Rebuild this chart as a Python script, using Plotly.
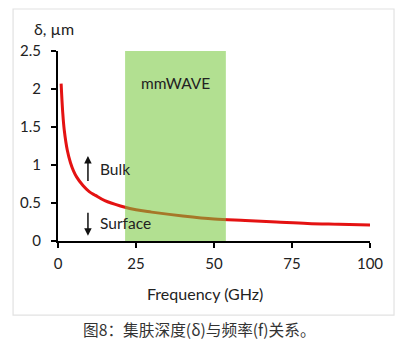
import plotly.graph_objects as go

freq_ghz = [1, 1.5, 2, 3, 4, 5, 6, 8, 10, 12, 15, 20, 25, 30, 40, 50, 60, 70, 80, 90, 100]
skin_depth_um = [2.07, 1.70, 1.46, 1.19, 1.03, 0.92, 0.84, 0.73, 0.65, 0.60, 0.53, 0.46, 0.41, 0.38, 0.33, 0.29, 0.27, 0.25, 0.23, 0.22, 0.21]
x_ticks = [0, 25, 50, 75, 100]
y_ticks = [0, 0.5, 1, 1.5, 2, 2.5]
band_start, band_end = 21.5, 53.8

FONT = "Lato, Open Sans, sans-serif"

fig = go.Figure()
fig.add_trace(go.Scatter(x=freq_ghz, y=skin_depth_um, mode="lines",
                         line=dict(color="rgb(228,18,18)", width=3, shape="spline"),
                         hoverinfo="skip", showlegend=False))

fig.add_shape(type="rect", xref="x", yref="y", x0=band_start, x1=band_end, y0=0, y1=2.5,
              fillcolor="rgba(118,200,58,0.56)", line=dict(width=0), layer="above")
# outer frame
fig.add_shape(type="rect", xref="paper", yref="paper", x0=-0.144, x1=1.077, y0=-0.39, y1=1.221,
              line=dict(color="#e2e2e2", width=1.2), fillcolor="rgba(0,0,0,0)", layer="below")

ann = []
ann.append(dict(x=37.8, y=2.08, xref="x", yref="y", text="mmWAVE", showarrow=False,
                font=dict(family=FONT, size=15.5, color="#222")))
ann.append(dict(x=12.8, y=0.95, xref="x", yref="y", text="Bulk", showarrow=False, xanchor="left",
                font=dict(family=FONT, size=15.5, color="#222")))
ann.append(dict(x=12.8, y=0.24, xref="x", yref="y", text="Surface", showarrow=False, xanchor="left",
                font=dict(family=FONT, size=15.5, color="#222")))
ann.append(dict(x=9.6, y=1.12, ax=9.6, ay=0.77, xref="x", yref="y", axref="x", ayref="y",
                text="", showarrow=True, arrowhead=2, arrowsize=1, arrowwidth=1.5, arrowcolor="#111"))
ann.append(dict(x=9.6, y=0.07, ax=9.6, ay=0.39, xref="x", yref="y", axref="x", ayref="y",
                text="", showarrow=True, arrowhead=2, arrowsize=1, arrowwidth=1.5, arrowcolor="#111"))
ann.append(dict(x=-0.083, y=1.12, xref="paper", yref="paper", text="δ, µm", showarrow=False,
                xanchor="left", yanchor="middle", font=dict(family=FONT, size=16, color="#222")))
ann.append(dict(x=0.47, y=-0.274, xref="paper", yref="paper", text="Frequency (GHz)", showarrow=False,
                xanchor="center", yanchor="middle", font=dict(family=FONT, size=16, color="#222")))
ann.append(dict(x=0.452, y=-0.468, xref="paper", yref="paper", text="图8：集肤深度(δ)与频率(f)关系。",
                showarrow=False, xanchor="center", yanchor="middle",
                font=dict(family="Noto Sans CJK SC", size=15.7, color="#333")))

fig.update_layout(
    width=399, height=349, margin=dict(l=50, r=37, t=43, b=116),
    paper_bgcolor="white", plot_bgcolor="white", annotations=ann,
    font=dict(family=FONT, size=15, color="#222"),
)
fig.update_xaxes(range=[0, 100], tickvals=x_ticks, showline=True, linecolor="black", linewidth=2,
                 ticks="outside", ticklen=5, tickwidth=2, tickcolor="black", showgrid=False,
                 zeroline=False, fixedrange=True, ticklabelstandoff=3)
fig.update_yaxes(range=[0, 2.5], tickvals=y_ticks, ticktext=["0", "0.5", "1", "1.5", "2", "2.5"],
                 showline=True, linecolor="black", linewidth=2, ticks="outside", ticklen=5,
                 tickwidth=2, tickcolor="black", showgrid=False, zeroline=False, fixedrange=True,
                 ticklabelstandoff=7)

fig.write_html("out.html")
